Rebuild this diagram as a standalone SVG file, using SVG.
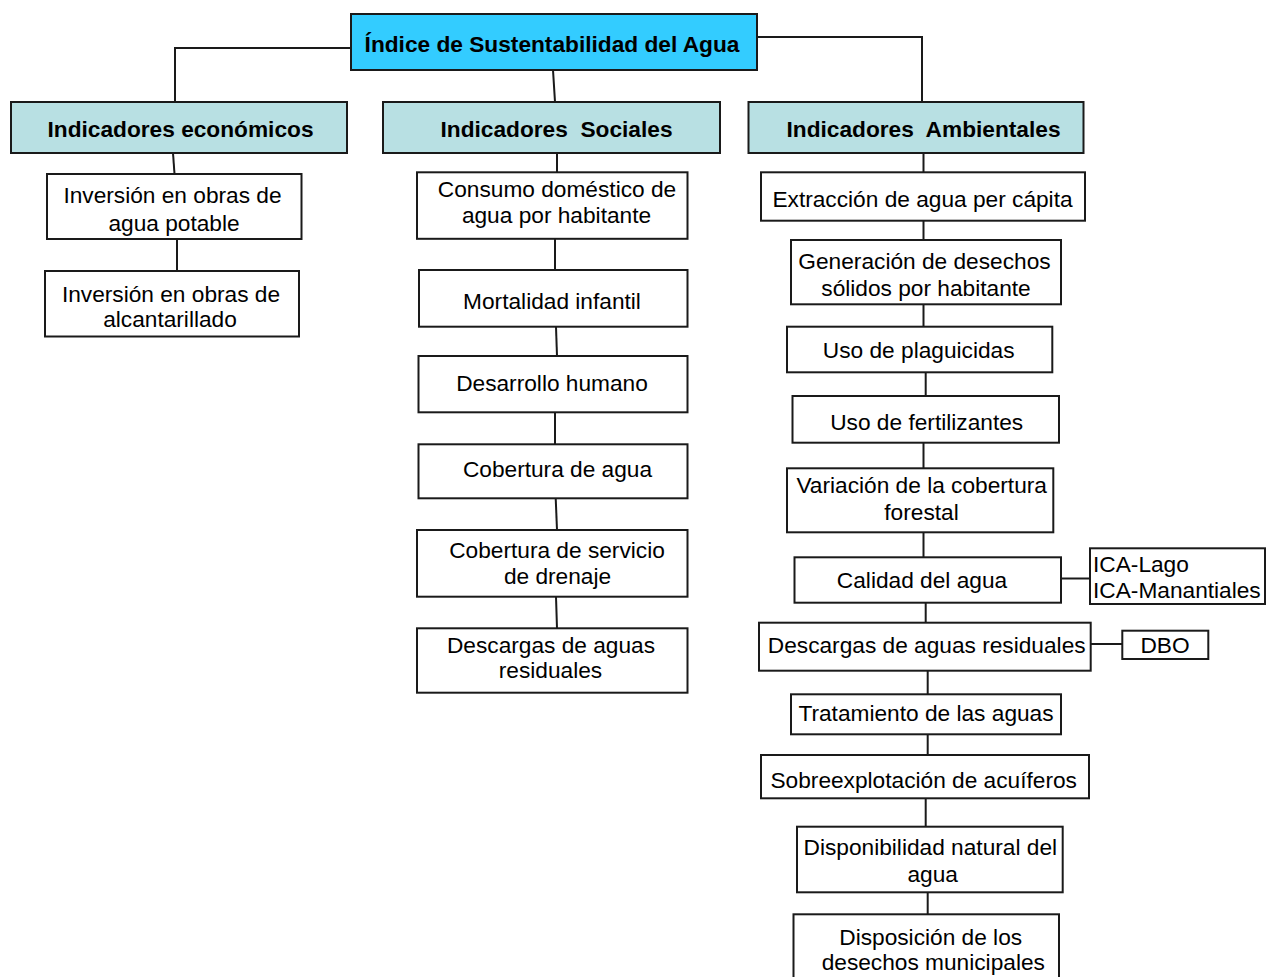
<svg xmlns="http://www.w3.org/2000/svg" width="1267" height="977" viewBox="0 0 1267 977">
<style>
.box{fill:#ffffff;stroke:#1a1a1a;stroke-width:2}
.root{fill:#33CCFF;stroke:#1a1a1a;stroke-width:2}
.hdr{fill:#B8E0E3;stroke:#1a1a1a;stroke-width:2}
.t{font-family:"Liberation Sans",Arial,sans-serif;font-size:22.7px;fill:#000;text-anchor:middle}
.b{font-weight:bold}
.l{text-anchor:start}
.c{stroke:#1a1a1a;stroke-width:2;fill:none}
</style>
<rect width="1267" height="977" fill="#ffffff"/>
<g id="connectors">
<polyline class="c" points="351,48 175,48 175,102"/>
<line class="c" x1="553" y1="70" x2="555" y2="102"/>
<polyline class="c" points="757,37 922,37 922,102"/>
<line class="c" x1="173" y1="153" x2="174.5" y2="174"/>
<line class="c" x1="177" y1="239" x2="177" y2="271"/>
<line class="c" x1="557" y1="153" x2="557" y2="172"/>
<line class="c" x1="555" y1="239" x2="555" y2="270"/>
<line class="c" x1="556" y1="327" x2="557" y2="356"/>
<line class="c" x1="555" y1="412" x2="555" y2="444"/>
<line class="c" x1="555.7" y1="498" x2="557" y2="530"/>
<line class="c" x1="556" y1="597" x2="557" y2="628"/>
<line class="c" x1="923.5" y1="153" x2="923.5" y2="172"/>
<line class="c" x1="923.5" y1="221" x2="923.5" y2="240"/>
<line class="c" x1="923.5" y1="304" x2="923.5" y2="327"/>
<line class="c" x1="925.7" y1="372" x2="925.7" y2="396"/>
<line class="c" x1="923.5" y1="443" x2="923.5" y2="468"/>
<line class="c" x1="923.5" y1="532" x2="923.5" y2="557"/>
<line class="c" x1="1061" y1="578.5" x2="1090" y2="578.5"/>
<line class="c" x1="925.7" y1="603" x2="925.7" y2="623"/>
<line class="c" x1="1091" y1="644" x2="1122" y2="644"/>
<line class="c" x1="927.7" y1="671" x2="927.7" y2="694"/>
<line class="c" x1="927.7" y1="734" x2="927.7" y2="755"/>
<line class="c" x1="925.7" y1="798" x2="925.7" y2="827"/>
<line class="c" x1="927.7" y1="892" x2="927.7" y2="914"/>
</g>
<g id="root"><rect class="root" x="351" y="14" width="406" height="56"/><text class="t b" x="552" y="51.5">Índice de Sustentabilidad del Agua</text></g>
<g id="econ"><rect class="hdr" x="11" y="102" width="336" height="51"/><text class="t b" x="180.5" y="136.7">Indicadores económicos</text></g>
<g id="soc"><rect class="hdr" x="383" y="102" width="337" height="51"/><text class="t b" x="556.5" y="136.7" xml:space="preserve">Indicadores  Sociales</text></g>
<g id="amb"><rect class="hdr" x="748.5" y="102" width="335" height="51"/><text class="t b" x="923.5" y="136.7" xml:space="preserve">Indicadores  Ambientales</text></g>
<g id="e1"><rect class="box" x="47" y="174" width="254.5" height="65"/><text class="t" x="172.5" y="203">Inversión en obras de</text><text class="t" x="174" y="230.7">agua potable</text></g>
<g id="e2"><rect class="box" x="45" y="271" width="254" height="65.5"/><text class="t" x="171" y="301.7">Inversión en obras de</text><text class="t" x="170" y="326.7">alcantarillado</text></g>
<g id="s1"><rect class="box" x="417" y="172.3" width="270.5" height="66.5"/><text class="t" x="557" y="196.7">Consumo doméstico de</text><text class="t" x="556.5" y="222.7">agua por habitante</text></g>
<g id="s2"><rect class="box" x="419" y="270" width="268.5" height="56.7"/><text class="t" x="552" y="309.3">Mortalidad infantil</text></g>
<g id="s3"><rect class="box" x="418.5" y="356" width="269" height="56.3"/><text class="t" x="552" y="391">Desarrollo humano</text></g>
<g id="s4"><rect class="box" x="418.5" y="444.3" width="269" height="54"/><text class="t" x="557.5" y="476.7">Cobertura de agua</text></g>
<g id="s5"><rect class="box" x="417" y="530" width="270.5" height="66.7"/><text class="t" x="557" y="558.3">Cobertura de servicio</text><text class="t" x="557.5" y="584.3">de drenaje</text></g>
<g id="s6"><rect class="box" x="417" y="628.3" width="270.5" height="64.4"/><text class="t" x="551" y="652.7">Descargas de aguas</text><text class="t" x="550.5" y="677.7">residuales</text></g>
<g id="a1"><rect class="box" x="761" y="172.3" width="324" height="48.4"/><text class="t" x="922.5" y="206.7">Extracción de agua per cápita</text></g>
<g id="a2"><rect class="box" x="791" y="240" width="270" height="64.3"/><text class="t" x="924.5" y="269.3">Generación de desechos</text><text class="t" x="926" y="296">sólidos por habitante</text></g>
<g id="a3"><rect class="box" x="787" y="326.7" width="265.3" height="45.6"/><text class="t" x="918.7" y="358.3">Uso de plaguicidas</text></g>
<g id="a4"><rect class="box" x="792.5" y="396" width="266.5" height="46.7"/><text class="t" x="926.7" y="430">Uso de fertilizantes</text></g>
<g id="a5"><rect class="box" x="787" y="468.3" width="266.3" height="64"/><text class="t" x="921.7" y="492.7">Variación de la cobertura</text><text class="t" x="921.5" y="520">forestal</text></g>
<g id="a6"><rect class="box" x="794.5" y="557.3" width="266.5" height="45.4"/><text class="t" x="922" y="588.3">Calidad del agua</text></g>
<g id="ica"><rect class="box" x="1090" y="548.3" width="175" height="55.7"/><text class="t l" x="1093" y="571.7">ICA-Lago</text><text class="t l" x="1093" y="597.7">ICA-Manantiales</text></g>
<g id="a7"><rect class="box" x="759" y="622.7" width="331.7" height="48"/><text class="t" x="926.7" y="652.7">Descargas de aguas residuales</text></g>
<g id="dbo"><rect class="box" x="1122.3" y="630.7" width="86" height="28.3"/><text class="t" x="1165" y="652.7">DBO</text></g>
<g id="a8"><rect class="box" x="791" y="694.3" width="270" height="40"/><text class="t" x="926" y="720.7">Tratamiento de las aguas</text></g>
<g id="a9"><rect class="box" x="761" y="755" width="328" height="43.3"/><text class="t" x="923.7" y="788.3">Sobreexplotación de acuíferos</text></g>
<g id="a10"><rect class="box" x="797" y="826.7" width="265.7" height="65.6"/><text class="t" x="930.3" y="855">Disponibilidad natural del</text><text class="t" x="932.7" y="881.7">agua</text></g>
<g id="a11"><rect class="box" x="793.5" y="914.3" width="265.5" height="75"/><text class="t" x="930.7" y="945">Disposición de los</text><text class="t" x="933.3" y="970">desechos municipales</text></g>
</svg>
